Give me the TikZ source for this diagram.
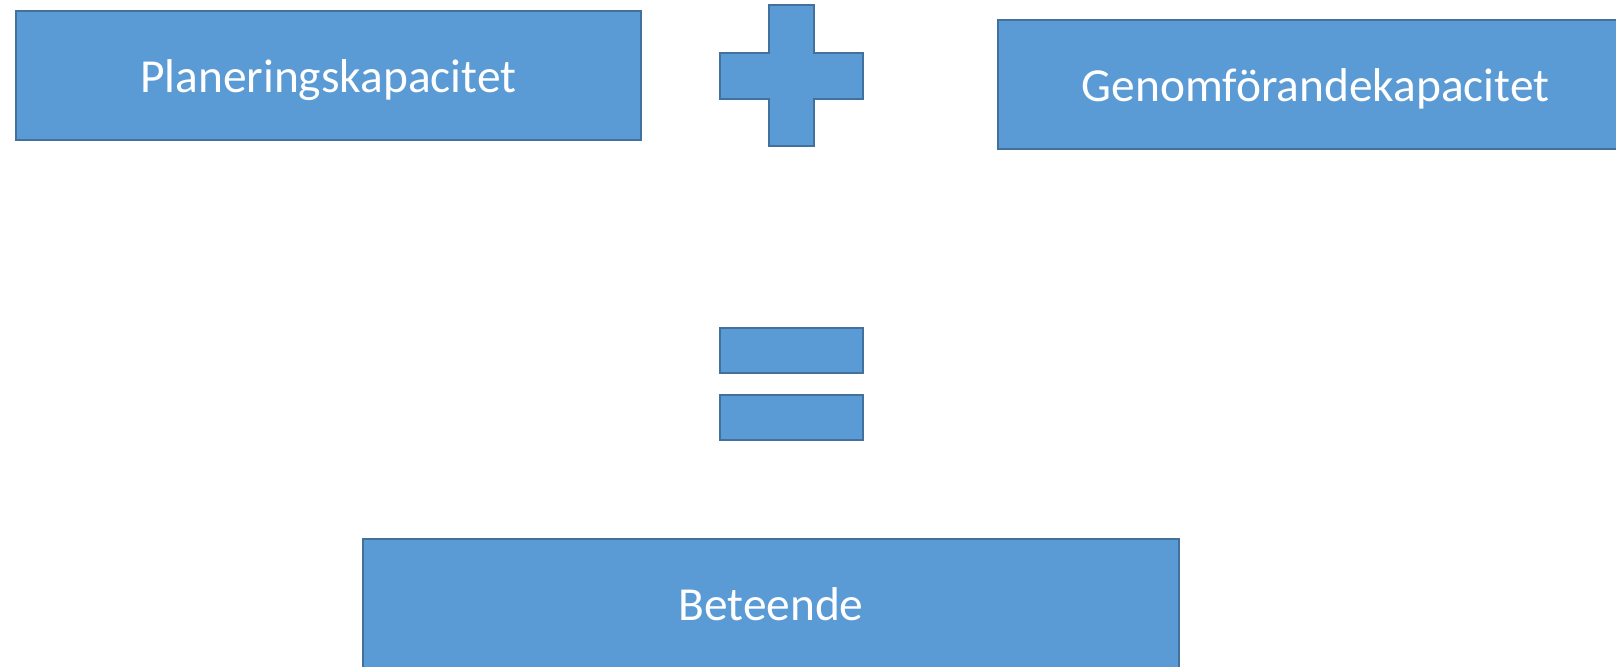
\documentclass[tikz,border=0pt]{standalone}
\usepackage{fontspec}
\setmainfont{Carlito}
\definecolor{boxfill}{HTML}{5B9BD5}
\definecolor{boxline}{HTML}{41719C}

\begin{document}
\begin{tikzpicture}[x=0.5pt,y=-0.5pt,
    shade/.style={draw=boxline,fill=boxfill,line width=1pt},
    box/.style={shade,text=white,inner sep=0pt,text height=17pt,text depth=0pt,
      font=\fontsize{23.7}{28}\selectfont},
    bar/.style={shade,inner sep=0pt,minimum width=71.5pt,minimum height=22.5pt}]
      \useasboundingbox (0,0) rectangle (1616,667);

      \node[box,minimum width=312.75pt,minimum height=64.35pt] (plan) at (328.25,75.65) {Planeringskapacitet};
      \node[box,minimum width=317.6pt,minimum height=64.9pt] (genom) at (1315.6,84.5) {Genomförandekapacitet};
      \node[box,minimum width=408pt,minimum height=64.5pt] (beteende) at (771,603.5) {Beteende};

      \draw[shade] (769,5) -- (814,5) -- (814,53) -- (863,53) -- (863,99) -- (814,99)
        -- (814,146) -- (769,146) -- (769,99) -- (720,99) -- (720,53) -- (769,53) -- cycle;

      \node[bar] (eq1) at (791.5,350.5) {};
      \node[bar] (eq2) at (791.5,417.5) {};
    \end{tikzpicture}
\end{document}
